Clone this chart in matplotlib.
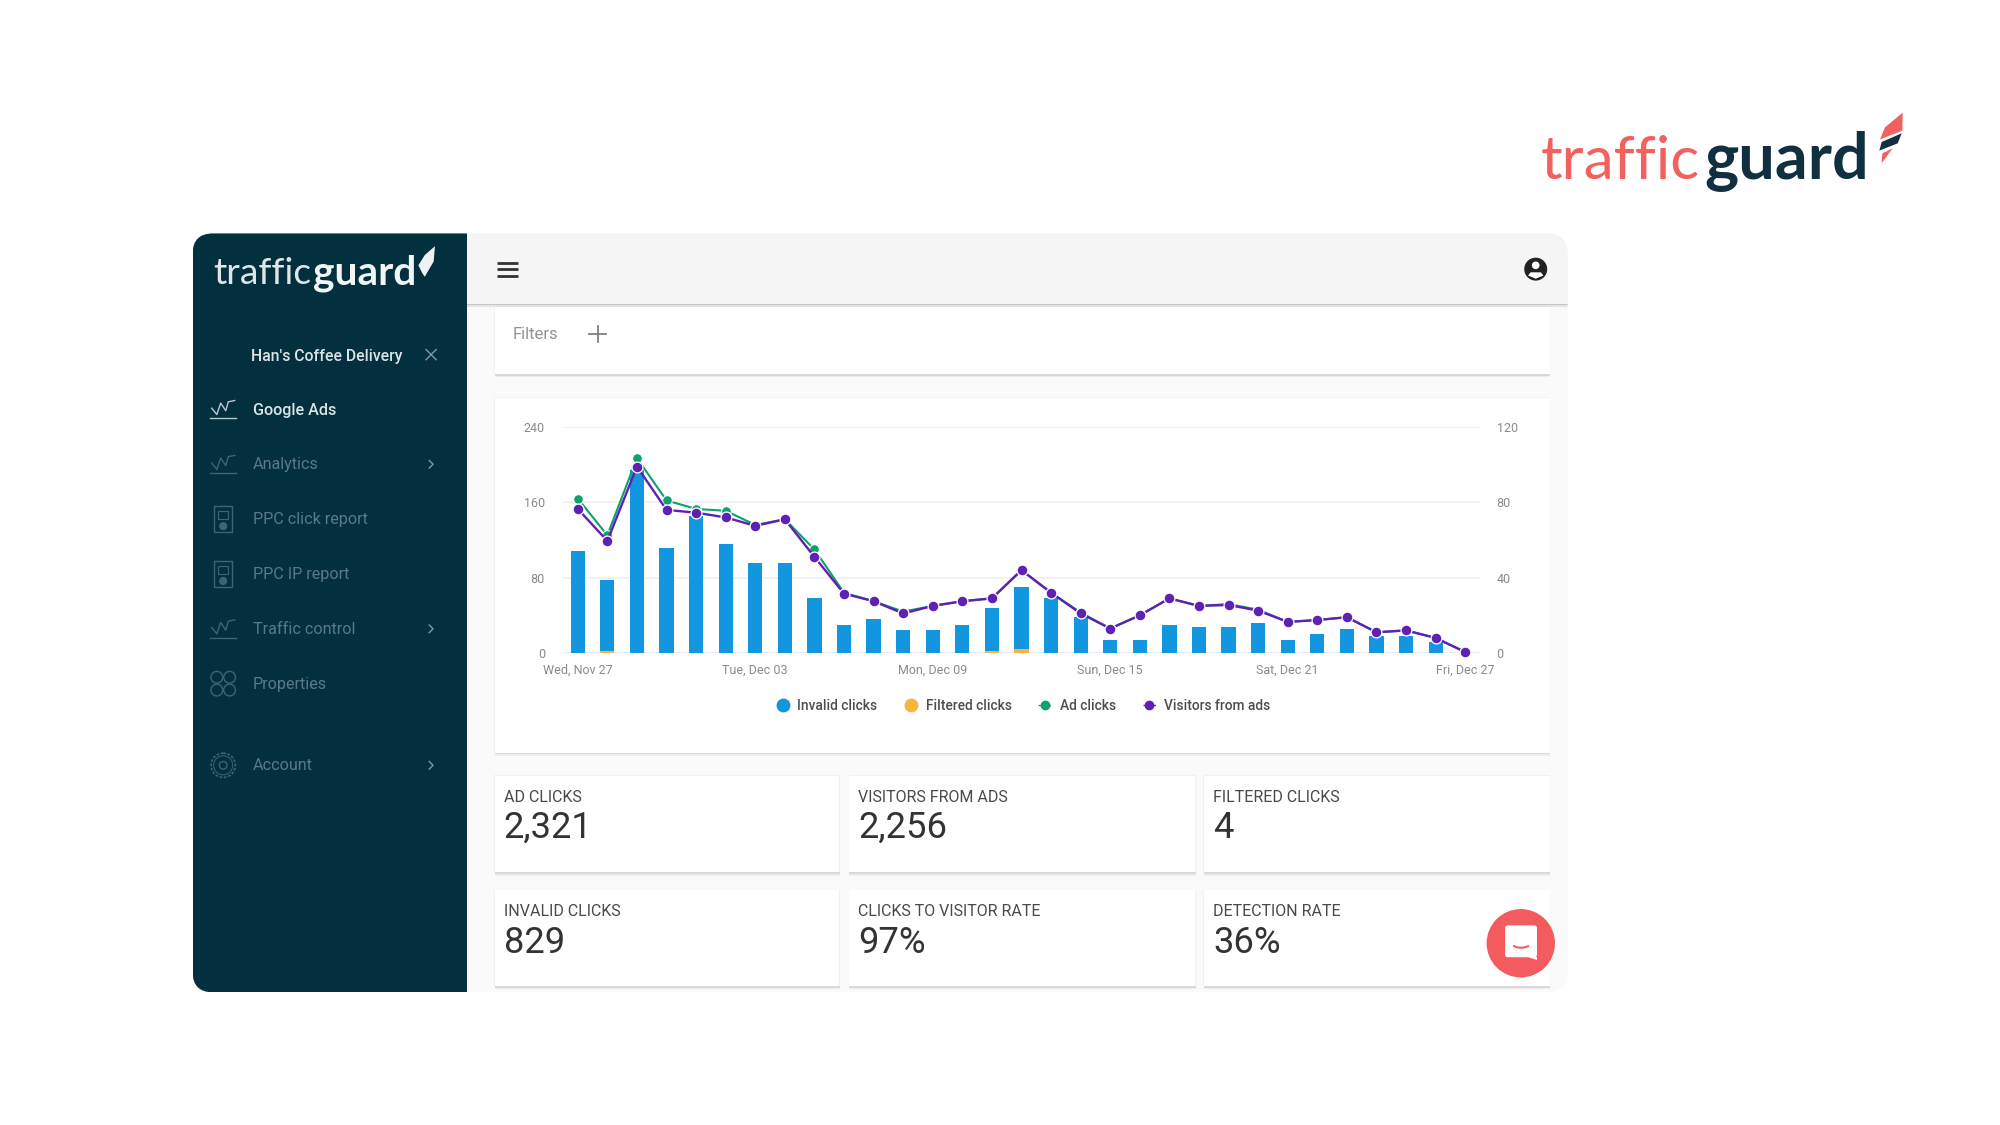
import matplotlib
matplotlib.use("Agg")
import matplotlib.pyplot as plt
from matplotlib.patches import FancyBboxPatch, Rectangle, Circle, Polygon, Arc
from matplotlib.lines import Line2D

plt.rcParams['font.family'] = ['Roboto', 'DejaVu Sans']

# ---- chart data ----
days = list(range(31))
tick_days = [0, 6, 12, 18, 24, 30]
tick_labels = ["Wed, Nov 27", "Tue, Dec 03", "Mon, Dec 09", "Sun, Dec 15", "Sat, Dec 21", "Fri, Dec 27"]
left_ticks = [0, 80, 160, 240]
right_ticks = [0, 40, 80, 120]
invalid_clicks = [54, 38, 97, 56, 73, 58, 48, 48, 29, 15, 18, 12, 12, 15, 23, 33, 29,
                  19, 7, 7, 15, 14, 14, 16, 7, 10, 13, 9, 9, 6, 0]
filtered_clicks = [0, 1, 0, 0, 0, 0, 0, 0, 0, 0, 0, 0, 0, 0, 1, 2, 0,
                   0, 0, 0, 0, 0, 0, 0, 0, 0, 0, 0, 0, 0, 0]
ad_clicks = [164, 125, 207, 162, 153, 151, 136, 142, 110, 64, 55, 44, 50, 55, 58, 88, 64,
             43, 26, 40, 58, 50, 52, 46, 33, 35, 38, 22, 24, 16, 1]
visitors = [153, 119, 198, 152, 149, 144, 135, 142, 102, 63, 55, 42, 50, 55, 58, 88, 64,
            42, 26, 40, 58, 50, 51, 45, 33, 35, 38, 22, 24, 16, 1]
legend_labels = ["Invalid clicks", "Filtered clicks", "Ad clicks", "Visitors from ads"]

# ---- dashboard text ----
menu_items = ["Google Ads", "Analytics", "PPC click report", "PPC IP report",
              "Traffic control", "Properties", "Account"]
menu_y = [321, 364, 407, 450, 493, 536, 600]
menu_icons = ["chart", "chart", "doc", "doc", "chart", "props", "gear"]
menu_chevron = [False, True, False, False, True, False, True]
card_titles = ["AD CLICKS", "VISITORS FROM ADS", "FILTERED CLICKS",
               "INVALID CLICKS", "CLICKS TO VISITOR RATE", "DETECTION RATE"]
card_values = ["2,321", "2,256", "4", "829", "97%", "36%"]

NAVY = "#03303f"
CORAL = "#f2605f"
BLUE = "#1296e0"
ORANGE = "#fbb33f"
GREEN = "#0ba36c"
PURPLE = "#5f20b4"

W, H = 1568.0, 882.0
K = 2000.0 / W

fig = plt.figure(figsize=(20, 11.25), dpi=100, facecolor="white")
ui = fig.add_axes([0, 0, 1, 1], zorder=0)
ui.set_xlim(0, W)
ui.set_ylim(H, 0)
ui.axis("off")


def rect(x0, y0, x1, y1, color, z=1, clip=None):
    p = Rectangle((x0, y0), x1 - x0, y1 - y0, facecolor=color, edgecolor="none", zorder=z)
    ui.add_patch(p)
    if clip is not None:
        p.set_clip_path(clip)
    return p


def card(x0, y0, x1, y1):
    for off, c in ((2.6, "#ededed"), (1.5, "#d9d9d9")):
        rect(x0 - 0.3, y0 + off, x1 + 0.3, y1 + off, c, z=2)
    rect(x0 - 0.5, y0 - 0.5, x1 + 0.5, y1, "#f1f1f1", z=2)
    rect(x0, y0, x1, y1, "white", z=3)


def fit_text(x0, x1, base, s, size=20, **kw):
    t = ui.text(x0, base, s, fontsize=size, va="baseline", ha="left", **kw)
    r = fig.canvas.get_renderer()
    w = t.get_window_extent(r).width / K
    t.set_fontsize(size * (x1 - x0) / w)
    return t


# ---- panel ----
panel = FancyBboxPatch((151, 183), 1078, 595, boxstyle="round,pad=0,rounding_size=16",
                       facecolor="#fafafa", edgecolor="none", zorder=1)
ui.add_patch(panel)
rect(151, 183, 366, 778, NAVY, z=1.5, clip=panel)
rect(366, 183, 1229, 238, "#f5f5f5", z=3.5, clip=panel)
rect(366, 238, 1229, 239.2, "#c6c6c6", z=3.6, clip=panel)
rect(366, 239.2, 1229, 240.4, "#e4e4e4", z=3.6, clip=panel)

# ---- cards ----
card(388, 238, 1215, 293)
card(388, 312, 1215, 590)
xs = [(388, 658), (666, 937), (944, 1215)]
ys = [(608, 684), (698, 773)]
for i, (title, value) in enumerate(zip(card_titles, card_values)):
    (x0, x1), (y0, y1) = xs[i % 3], ys[i // 3]
    card(x0, y0, x1, y1)
    ui.text(x0 + 7, y0 + 17, title, fontsize=11.5, color="#4a4a4a", va="center", zorder=4)
    ui.text(x0 + 7, y0 + 41, value, fontsize=26.2, color="#333333", va="center", zorder=4)

ui.text(402, 262.5, "Filters", fontsize=12, color="#939393", va="center", zorder=4)
ui.plot([462, 475], [262, 262], color="#808080", lw=1.3, zorder=4)
ui.plot([468.5, 468.5], [255.5, 268.5], color="#808080", lw=1.3, zorder=4)

# ---- header icons ----
for y in (206, 211, 216):
    ui.plot([390, 406], [y, y], color="#333333", lw=2.0, zorder=4, solid_capstyle="butt")
ui.add_patch(Circle((1204, 211), 9, facecolor="#222222", edgecolor="none", zorder=4))
ui.add_patch(Circle((1204, 208), 3, facecolor="white", edgecolor="none", zorder=5))
ui.add_patch(Polygon([(1198, 216), (1200, 213.5), (1208, 213.5), (1210, 216), (1204, 218.5)],
                     facecolor="white", edgecolor="none", zorder=5))

# ---- sidebar ----
fit_text(167, 244, 223, "traffic", size=20, color="#dfe6e9", family="Lato", zorder=4)
fit_text(245, 326, 223, "guard", size=20, color="#f2f5f6", family="Lato", weight="bold", zorder=4)
ui.add_patch(Polygon([(341, 193), (340, 205), (333, 217), (331, 214), (328, 208), (333, 200)],
                     facecolor="#eef2f3", edgecolor="none", zorder=4))
fit_text(197, 315, 283, "Han's Coffee Delivery", size=10, color="#dbe3e6", weight="medium", zorder=4)
ui.plot([334, 342], [274, 282], color="#7f9aa5", lw=1.0, zorder=4)
ui.plot([334, 342], [282, 274], color="#7f9aa5", lw=1.0, zorder=4)


def draw_icon(kind, cy, color):
    cx = 175
    lw = 1.0
    if kind == "chart":
        ui.plot([165, 185], [cy + 7, cy + 7], color=color, lw=lw, zorder=4)
        ui.plot([166, 170, 173, 177, 179, 184], [cy - 1, cy + 4, cy - 5, cy + 1, cy - 6, cy - 7],
                color=color, lw=lw, zorder=4)
    elif kind == "doc":
        ui.add_patch(Rectangle((cx - 7, cy - 10), 14, 20, fill=False, edgecolor=color, lw=lw, zorder=4))
        ui.add_patch(Rectangle((cx - 4, cy - 6), 8, 6, fill=False, edgecolor=color, lw=0.8, zorder=4))
        ui.add_patch(Circle((cx, cy + 5.5), 3.2, facecolor=color, edgecolor="none", zorder=4))
    elif kind == "props":
        for dx, dy in ((-5, -5), (5, -5), (-5, 5), (5, 5)):
            ui.add_patch(Circle((cx + dx, cy + dy), 4.6, fill=False, edgecolor=color, lw=lw, zorder=4))
    else:
        ui.add_patch(Circle((cx, cy), 9.5, fill=False, edgecolor=color, lw=1.2, ls=(0, (1.6, 1.0)), zorder=4))
        ui.add_patch(Circle((cx, cy), 7.5, fill=False, edgecolor=color, lw=0.7, zorder=4))
        ui.add_patch(Circle((cx, cy), 3, fill=False, edgecolor=color, lw=lw, zorder=4))


for i, (name, y, icon, chev) in enumerate(zip(menu_items, menu_y, menu_icons, menu_chevron)):
    active = i == 0
    col = "#dbe3e6" if active else "#587a88"
    ui.text(198, y + 0.5, name, fontsize=11.6, color=col, va="center", weight="medium" if active else "normal", zorder=4)
    draw_icon(icon, y, "#b9c8ce" if active else "#3f6373")
    if chev:
        ui.plot([336.5, 339.5, 336.5], [y - 3, y, y + 3], color="#7f9aa5", lw=1.0, zorder=4)

# ---- top-right logo ----
fit_text(1208, 1333, 140.6, "traffic", size=40, color=CORAL, family="Lato", zorder=4)
fit_text(1336, 1465, 140.6, "guard", size=40, color="#11303f", family="Lato", weight="bold", zorder=4)


def z4(pts):
    return [((1500 + x / 3) / K, (100 + y / 3) / K) for x, y in pts]


ui.add_patch(Polygon(z4([(1208, 38), (1207, 92), (1140, 118), (1155, 82)]), facecolor=CORAL, edgecolor="none", zorder=4))
ui.add_patch(Polygon(z4([(1205, 100), (1193, 130), (1138, 152), (1145, 126)]), facecolor="#11303f", edgecolor="none", zorder=4))
ui.add_patch(Polygon(z4([(1178, 145), (1145, 190), (1147, 160)]), facecolor=CORAL, edgecolor="none", zorder=4))

# ---- chat button ----
ui.add_patch(Circle((1192.3, 739.5), 26.8, facecolor="#f45b5e", edgecolor="none", zorder=5))
ui.add_patch(FancyBboxPatch((1180, 725.5), 25, 25, boxstyle="round,pad=0,rounding_size=2",
                            facecolor="white", edgecolor="none", zorder=6))
ui.add_patch(Polygon([(1198, 750), (1205, 750), (1205, 753)], facecolor="white", edgecolor="none", zorder=6))
ui.add_patch(Arc((1192.5, 738.5), 16, 9, theta1=25, theta2=155, edgecolor="#f45b5e", lw=1.5, zorder=7))

# ---- chart ----
ax_left_px, ax_right_px = 563.0, 1480.0
ax_top_px, ax_bottom_px = 427.0, 653.0
pos = [ax_left_px / 2000, 1 - ax_bottom_px / 1125, (ax_right_px - ax_left_px) / 2000, (ax_bottom_px - ax_top_px) / 1125]
axl = fig.add_axes(pos, zorder=3)
axr = axl.twinx()
axr.set_zorder(2)
axl.patch.set_visible(False)
axr.patch.set_visible(False)

axr.bar(days, filtered_clicks, width=0.48, color=ORANGE, zorder=3)
axr.bar(days, invalid_clicks, width=0.48, bottom=filtered_clicks, color=BLUE, zorder=3)
axl.plot(days, ad_clicks, color=GREEN, lw=1.5, marker="o", ms=7, mec="white", mew=0.8, zorder=3)
axl.plot(days, visitors, color=PURPLE, lw=1.7, marker="o", ms=7.8, mec="white", mew=0.9, zorder=4, clip_on=False)

axl.set_xlim(-0.5, 30.5)
axl.set_ylim(0, 240)
axr.set_ylim(0, 120)
axl.set_yticks(left_ticks)
axr.set_yticks(right_ticks)
axl.set_xticks(tick_days)
axl.set_xticklabels(tick_labels)
axl.tick_params(axis="both", length=0, labelsize=9, labelcolor="#8a8a8a")
axl.tick_params(axis="y", pad=13)
axl.tick_params(axis="x", pad=8)
axr.tick_params(axis="y", length=0, labelsize=9, labelcolor="#8a8a8a", pad=12)
axr.yaxis.grid(True, color="#efefef", lw=1.2)
axr.axhline(0, color="#e5ebf7", lw=1.6, zorder=1)
axr.set_axisbelow(True)
for a in (axl, axr):
    for s in a.spines.values():
        s.set_visible(False)

handles = [
    Line2D([], [], ls="none", marker="o", ms=9, color=BLUE),
    Line2D([], [], ls="none", marker="o", ms=9, color=ORANGE),
    Line2D([], [], ls=(0, (2, 1.5)), lw=1, marker="o", ms=6, color=GREEN),
    Line2D([], [], ls=(0, (2, 1.5)), lw=1, marker="o", ms=6, color=PURPLE),
]
leg = axl.legend(handles, legend_labels, ncol=4, frameon=False, loc="center",
                 bbox_to_anchor=(0.5017, -0.2346), handlelength=1.0,
                 handletextpad=0.55, columnspacing=1.95, labelcolor="#4d4d4d",
                 prop={"family": "Roboto", "weight": "medium", "size": 9.9})

fig.savefig("out.png", dpi=100, facecolor="white")
